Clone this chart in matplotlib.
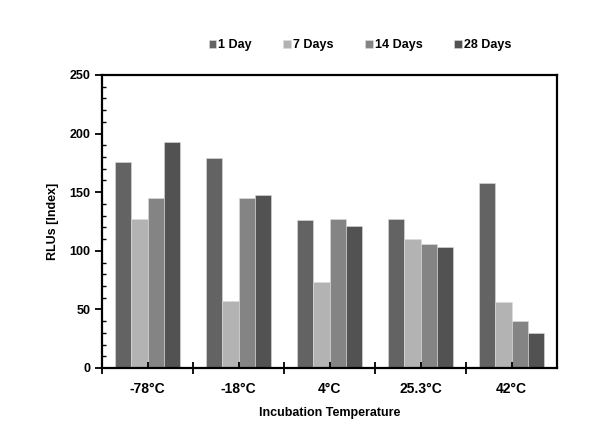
import matplotlib
matplotlib.use("Agg")
import matplotlib.pyplot as plt
import numpy as np
from matplotlib.ticker import MultipleLocator

plt.rcParams['font.family'] = ['Liberation Sans', 'DejaVu Sans']
plt.rcParams['font.weight'] = 'bold'

temps = ['-78°C', '-18°C', '4°C', '25.3°C', '42°C']
series = ['1 Day', '7 Days', '14 Days', '28 Days']
day1 = [176, 179, 126, 127, 158]
day7 = [127, 57, 73, 110, 56]
day14 = [145, 145, 127, 106, 40]
day28 = [193, 148, 121, 103, 30]
colors = ['#636363', '#b3b3b3', '#848484', '#525252']

fig = plt.figure(figsize=(6, 4.38), dpi=100)
ax = fig.add_axes([102 / 600, 1 - 368 / 438, 455 / 600, 293 / 438])

x = np.arange(len(temps))
w = 0.18
for i, (vals, lab) in enumerate(zip([day1, day7, day14, day28], series)):
    ax.bar(x + (i - 1.5) * w, vals, w, color=colors[i], label=lab,
           edgecolor='#dcdcdc', linewidth=0.4)

ax.set_xlim(-0.5, len(temps) - 0.5)
ax.set_ylim(0, 250)
ax.yaxis.set_major_locator(MultipleLocator(50))
ax.yaxis.set_minor_locator(MultipleLocator(10))
ax.set_xticks(x - 0.5, minor=False)
ax.set_xticks(x, minor=True)
ax.set_xticklabels([''] * len(temps))
ax.set_xticklabels(temps, minor=True)
ax.tick_params(axis='x', which='major', direction='inout', length=8, width=1.3)
ax.tick_params(axis='x', which='minor', direction='in', length=4, width=1.3, pad=10)
ax.tick_params(axis='y', which='major', direction='out', length=5, width=1.3)
ax.tick_params(axis='y', which='minor', direction='in', length=3, width=1)
ax.tick_params(labelsize=9)
for s in ax.spines.values():
    s.set_linewidth(1.6)

ax.set_ylabel('RLUs [Index]', fontsize=9, fontweight='bold', labelpad=7)
ax.set_xlabel('Incubation Temperature', fontsize=9, fontweight='bold', labelpad=8)

fig.legend(loc='center', bbox_to_anchor=(0.6, 1 - 45 / 438), ncol=4, frameon=False,
           fontsize=9, handlelength=0.6, handleheight=0.6, handletextpad=0.2,
           columnspacing=2.5)

fig.savefig('out.png', dpi=100)
